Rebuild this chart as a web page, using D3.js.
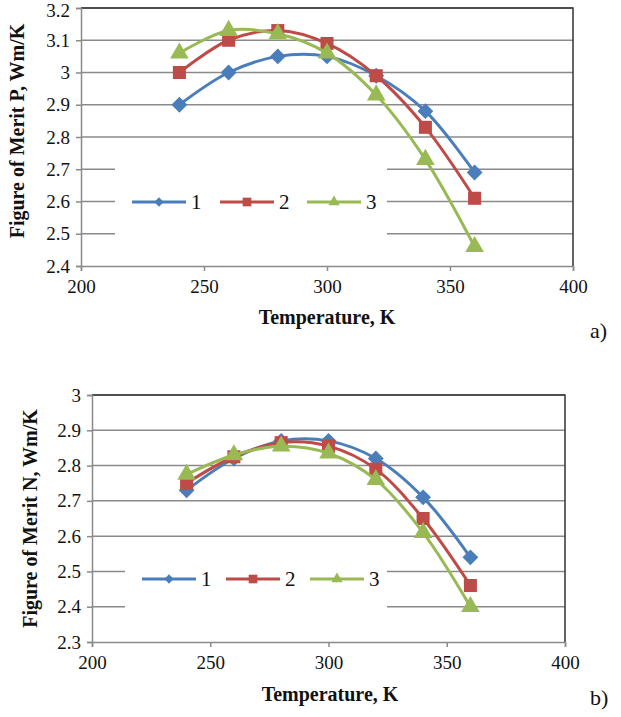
<!DOCTYPE html>
<html>
<head>
<meta charset="utf-8">
<script src="https://cdn.jsdelivr.net/npm/d3@7"></script>
<style>
  body { margin: 0; background: #fff; }
  svg { display: block; }
  svg text { font-family: "Liberation Serif", "Times New Roman", "DejaVu Serif", serif !important; fill: #111; }
</style>
</head>
<body>
<svg id="chart" width="621" height="717"></svg>
<script>
// temperatures, K
var temps = [240, 260, 280, 300, 320, 340, 360];
var xTicks = [200, 250, 300, 350, 400];

// panel a) figure of merit P
var p1 = [2.90, 3.00, 3.05, 3.05, 2.99, 2.88, 2.69];
var p2 = [3.00, 3.10, 3.13, 3.09, 2.99, 2.83, 2.61];
var p3 = [3.06, 3.13, 3.12, 3.06, 2.93, 2.73, 2.46];
var pTicks = [2.4, 2.5, 2.6, 2.7, 2.8, 2.9, 3.0, 3.1, 3.2];

// panel b) figure of merit N
var n1 = [2.73, 2.82, 2.87, 2.87, 2.82, 2.71, 2.54];
var n2 = [2.75, 2.825, 2.865, 2.855, 2.79, 2.65, 2.46];
var n3 = [2.775, 2.83, 2.855, 2.835, 2.76, 2.61, 2.40];
var nTicks = [2.3, 2.4, 2.5, 2.6, 2.7, 2.8, 2.9, 3.0];

var seriesNames = ["1", "2", "3"];
var colors = ["#4a7ebb", "#be4b48", "#98b954"];
var shapes = [d3.symbolDiamond2, d3.symbolSquare, d3.symbolTriangle];

var svg = d3.select("#chart");

function panel(cfg){
    var g = svg.append("g");
    var x = d3.scaleLinear().domain([200, 400]).range([cfg.left, cfg.right]);
    var y = d3.scaleLinear().domain([cfg.ticks[0], cfg.ticks[cfg.ticks.length-1]]).range([cfg.bottom, cfg.top]);

    // gridlines
    g.selectAll(".grid").data(cfg.ticks.slice(1)).enter().append("line")
        .attr("x1", cfg.left).attr("x2", cfg.right)
        .attr("y1", function(d){ return y(d); }).attr("y2", function(d){ return y(d); })
        .attr("stroke", "#8a8a8a").attr("stroke-width", 1.5);

    // frame: top and right dark
    g.append("path")
        .attr("d", "M" + cfg.left + "," + cfg.top + "H" + cfg.right + "V" + cfg.bottom)
        .attr("fill", "none").attr("stroke", "#333").attr("stroke-width", 1.5);

    var yAxis = d3.axisLeft(y).tickValues(cfg.ticks).tickSize(5).tickPadding(6)
        .tickFormat(d3.format("~g"));
    var xAxis = d3.axisBottom(x).tickValues(xTicks).tickSize(5).tickPadding(9);

    var ya = g.append("g").attr("transform", "translate(" + cfg.left + ",0)").call(yAxis);
    var xa = g.append("g").attr("transform", "translate(0," + cfg.bottom + ")").call(xAxis);
    [ya, xa].forEach(function(a){
        a.attr("font-family", null);
        a.select(".domain").attr("stroke", "#8a8a8a").attr("stroke-width", 1.5);
        a.selectAll(".tick line").attr("stroke", "#8a8a8a").attr("stroke-width", 1.5);
        a.selectAll("text").attr("font-size", 19).attr("fill", "#111");
    });
    // keep the top tick label inside the page
    ya.selectAll(".tick text").filter(function(d){ return y(d) < 12; }).attr("dy", "0.45em");

    // legend box (covers gridlines)
    g.append("rect").attr("x", cfg.legend.x0).attr("y", cfg.legend.y0)
        .attr("width", cfg.legend.x1 - cfg.legend.x0).attr("height", cfg.legend.y1 - cfg.legend.y0)
        .attr("fill", "#fff");

    var line = d3.line()
        .x(function(d){ return x(d[0]); })
        .y(function(d){ return y(d[1]); })
        .curve(d3.curveCatmullRom.alpha(0.5));

    cfg.series.forEach(function(s, i){
        var pts = temps.map(function(t, j){ return [t, s[j]]; });
        g.append("path").datum(pts).attr("d", line)
            .attr("fill", "none").attr("stroke", colors[i]).attr("stroke-width", 3);
        g.selectAll(".m" + i).data(pts).enter().append("path")
            .attr("transform", function(d){ return "translate(" + x(d[0]) + "," + y(d[1]) + ")"; })
            .attr("d", d3.symbol().type(shapes[i]).size(i == 1 ? 170 : (i == 0 ? 160 : 150)))
            .attr("fill", colors[i]);
    });

    // legend entries
    var lg = cfg.legend;
    seriesNames.forEach(function(name, i){
        var lx = lg.starts[i];
        g.append("line").attr("x1", lx).attr("x2", lx + 54)
            .attr("y1", lg.cy).attr("y2", lg.cy)
            .attr("stroke", colors[i]).attr("stroke-width", 3);
        g.append("path").attr("transform", "translate(" + (lx + 27) + "," + lg.cy + ")")
            .attr("d", d3.symbol().type(shapes[i]).size(i == 1 ? 75 : 55))
            .attr("fill", colors[i]);
        g.append("text").attr("x", lx + 59).attr("y", lg.cy + 7)
            .attr("font-size", 21).text(name);
    });

    // axis titles
    g.append("text")
        .attr("transform", "translate(" + cfg.ylabX + "," + ((cfg.top + cfg.bottom) / 2 + cfg.ylabDy) + ") rotate(-90)")
        .attr("text-anchor", "middle").attr("dominant-baseline", "central")
        .attr("font-weight", "bold").attr("font-size", 20).text(cfg.ylabel);
    g.append("text").attr("x", cfg.xlabX).attr("y", cfg.xlabY)
        .attr("text-anchor", "middle").attr("font-weight", "bold").attr("font-size", 20)
        .text("Temperature, K");
    g.append("text").attr("x", 590).attr("y", cfg.tagY)
        .attr("font-size", 22).text(cfg.tag);
}

panel({
    left: 81, right: 573, top: 8, bottom: 266,
    ticks: pTicks, series: [p1, p2, p3],
    legend: { x0: 115, x1: 387, y0: 150, y1: 250, cy: 202, starts: [132, 220, 307] },
    ylabel: "Figure of Merit P, Wm/K", ylabX: 17, ylabDy: -6,
    xlabX: 327, xlabY: 324, tag: "a)", tagY: 338
});

panel({
    left: 92, right: 565, top: 395, bottom: 642,
    ticks: nTicks, series: [n1, n2, n3],
    legend: { x0: 125, x1: 387, y0: 550, y1: 620, cy: 579, starts: [142, 226, 310] },
    ylabel: "Figure of Merit N, Wm/K", ylabX: 30, ylabDy: 0,
    xlabX: 330, xlabY: 701, tag: "b)", tagY: 705
});
</script>
</body>
</html>
